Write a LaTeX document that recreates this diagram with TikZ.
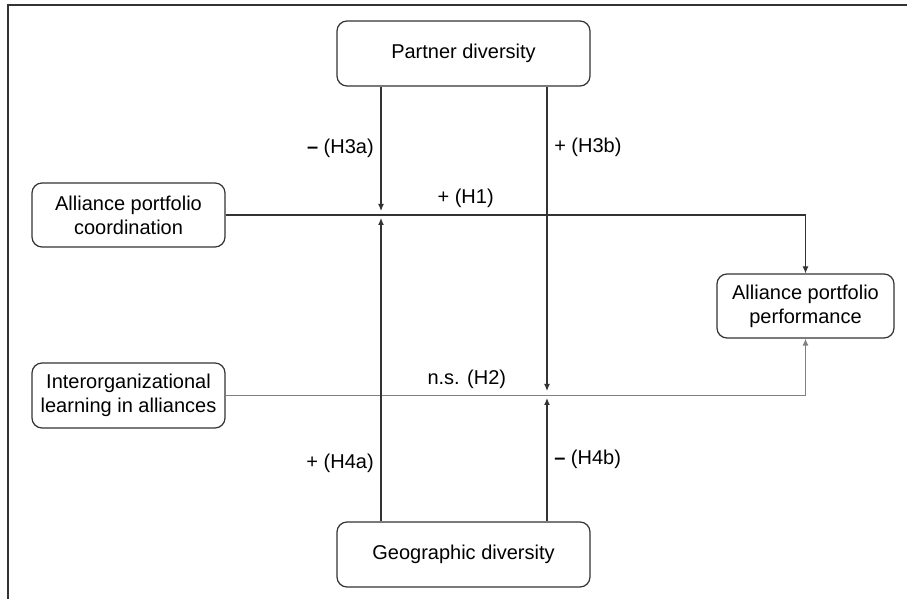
\documentclass[tikz,border=0pt]{standalone}
\usepackage{fontspec}
\setmainfont{Liberation Sans}
\usetikzlibrary{arrows.meta,positioning}
\tikzset{>={Latex[length=3.5pt,width=3pt]}}
\tikzset{
construct/.style={draw=black!80, rounded corners=5pt, align=center, inner sep=0pt},
link/.style={draw=black!80, ->},
weaklink/.style={draw=black!50, ->}
}
\newcommand{\negsign}{\textbf{–}}

\begin{document}
\begin{tikzpicture}[x=0.5pt, y=-0.5pt, line width=0.6pt, font=\fontsize{10}{12}\selectfont]
\useasboundingbox (0,0) rectangle (907,599);
\draw[black!80] (8,599) -- (8,5) -- (907,5);

\node[construct, minimum width=126.5pt, minimum height=32.5pt] (partner) at (463.5,53.5) {Partner diversity};
\node[construct, minimum width=126.5pt, minimum height=32.5pt] (geo) at (463.5,554.5) {Geographic diversity};
\node[construct, minimum width=96.5pt, minimum height=32pt] (coord) at (128.5,215) {Alliance portfolio\\coordination};
\node[construct, minimum width=96.5pt, minimum height=32.5pt] (learn) at (128.5,395.5) {Interorganizational\\learning in alliances};
\node[construct, minimum width=88.5pt, minimum height=32pt] (perf) at (805.5,306) {Alliance portfolio\\performance};

% crossing points of the moderators
\coordinate (m1) at (381,215);
\coordinate (m2) at (547,395);

\draw[link] (coord.east) -| node[pos=0.207, above, text=black] {+ (H1)} (perf.north);
\draw[weaklink] (learn.east) -| node[pos=0.208, above, text=black] {n.s. (H2)} (perf.south);

\path[->, black!80, text=black]
(partner.south -| m1) edge node[midway, left] {\negsign\ (H3a)} ([yshift=2pt]m1)
(partner.south -| m2) edge node[pos=0.2, right] {+ (H3b)} ([yshift=2pt]m2)
(geo.north -| m1) edge node[pos=0.19, left] {+ (H4a)} ([yshift=-1.5pt]m1)
(geo.north -| m2) edge node[midway, right] {\negsign\ (H4b)} ([yshift=-1.5pt]m2)
;
\end{tikzpicture}
\end{document}
